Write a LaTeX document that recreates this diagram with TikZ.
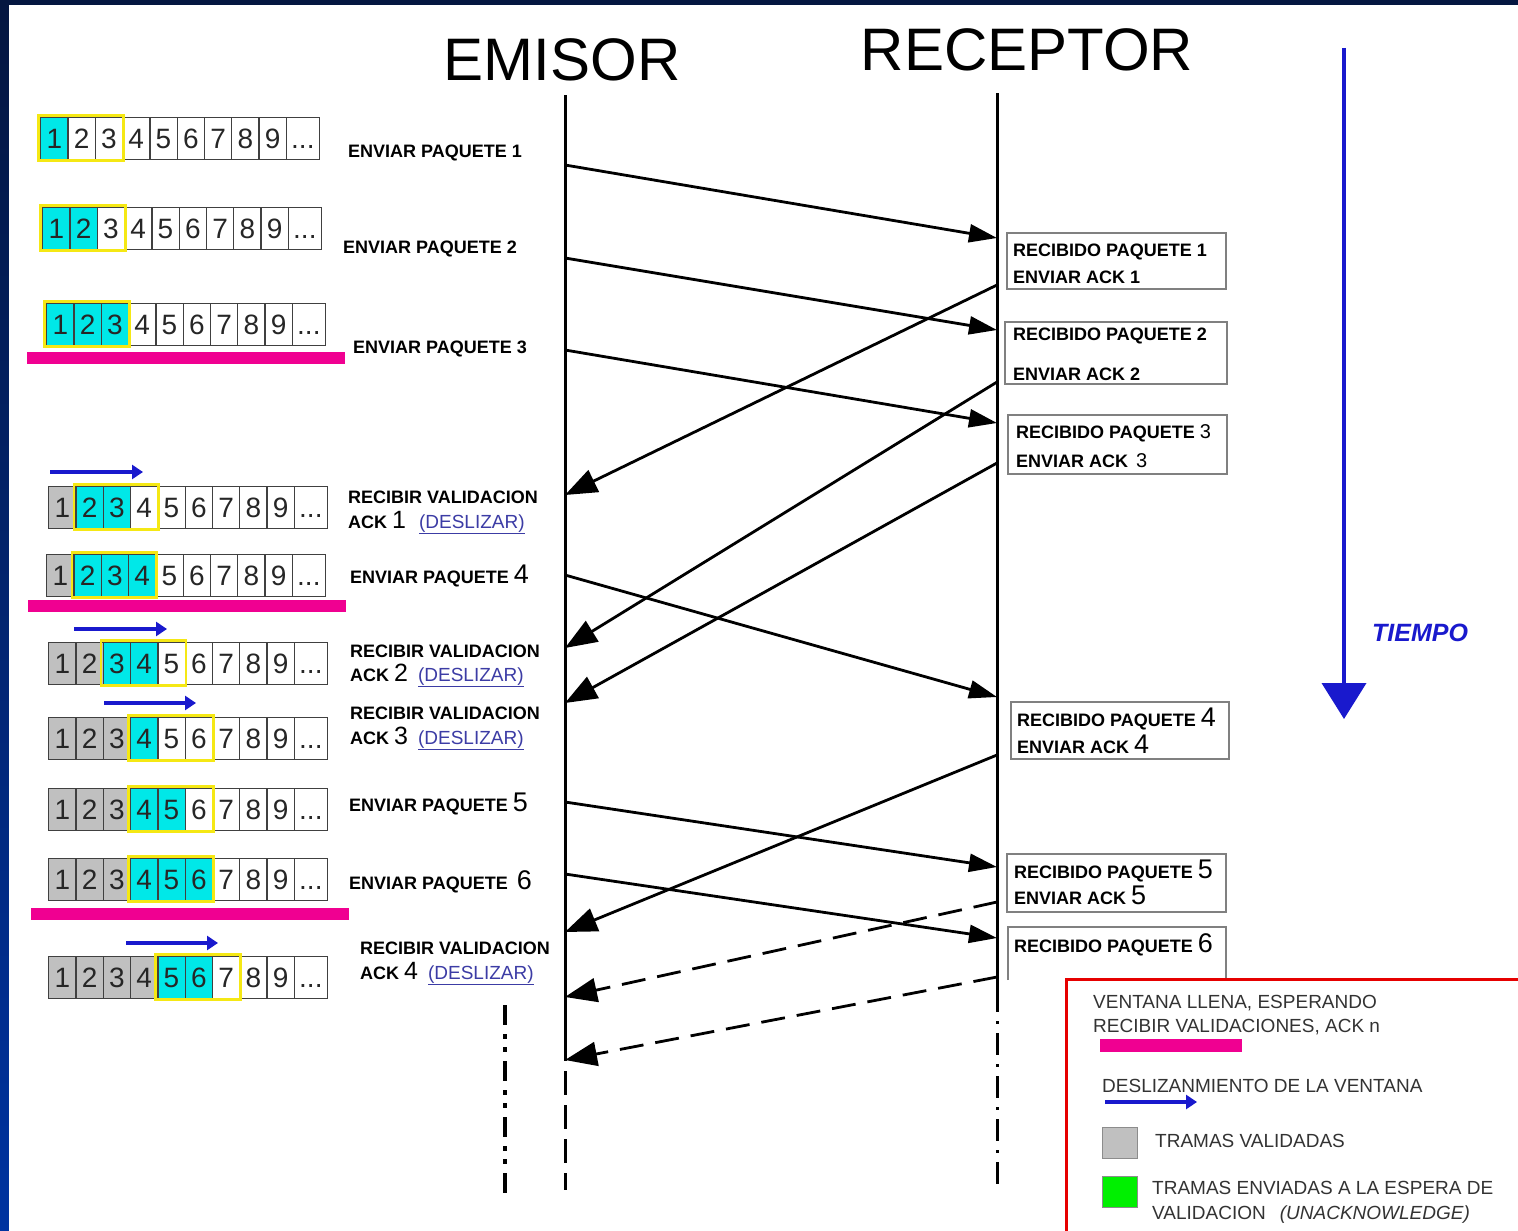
\documentclass[tikz,border=0pt]{standalone}
\usepackage{fontspec}
\setmainfont{Liberation Sans}
\usetikzlibrary{arrows.meta}

\definecolor{marino}{RGB}{4,22,64}
\definecolor{azulfondo}{RGB}{0,51,160}
\definecolor{cian}{RGB}{0,232,232}
\definecolor{gris}{RGB}{192,192,192}
\definecolor{amarillo}{RGB}{245,232,20}
\definecolor{rosa}{RGB}{240,0,145}
\definecolor{azul}{RGB}{25,25,205}
\definecolor{enlace}{RGB}{60,60,165}
\definecolor{verde}{RGB}{0,240,0}
\definecolor{rojo}{RGB}{230,0,0}

\newcommand{\gran}[2][27]{{\fontsize{#1}{#1}\mdseries\selectfont #2}}
\newcommand{\desl}{{\fontsize{19}{19}\mdseries\selectfont\color{enlace}\underline{(DESLIZAR)}}}

% fila de tramas: nombre, x, y, grises, cian desde, cian hasta, ventana desde
\newcommand{\ventana}[7]{%
  \foreach \i in {1,...,9}{
    \ifnum\i>#4\relax \def\relleno{white}\else \def\relleno{gris}\fi
    \ifnum\i<#5\relax \else \ifnum\i>#6\relax \else \def\relleno{cian}\fi\fi
    \node[celda, fill=\relleno] (#1c\i) at ({#2+(\i-1)*27.3}, #3) {\i};
  }
  \node[celda, minimum width=33pt] (#1c10) at ({#2+9*27.3}, #3) {...};
  \draw[ventanabox] ({#2+(#7-1)*27.3-1.5}, {#3-1.5}) rectangle ({#2+(#7+2)*27.3+1.5}, {#3+43.5});
}

\tikzset{
  celda/.style={draw=black!75, line width=1.3pt, minimum width=27.3pt, minimum height=42pt,
    inner sep=0pt, text height=20pt, text depth=0pt, anchor=north west, text=black!85,
    font=\fontsize{28}{28}\selectfont},
  ventanabox/.style={draw=amarillo, line width=2.6pt},
  titulo/.style={font=\fontsize{60}{60}\selectfont},
  vida/.style={line width=3pt},
  msg/.style={line width=2.8pt, -{Triangle[length=28pt,width=18pt]}},
  ack/.style={line width=2.8pt, -{Triangle[length=32pt,width=24pt]}},
  desliza/.style={draw=azul, line width=3.5pt, -{Triangle[length=11pt,width=14pt]}},
  etiq/.style={anchor=base west, inner sep=0pt, font=\fontsize{18}{18}\bfseries\selectfont},
  caja/.style={draw=black!50, line width=1.3pt},
  leyenda/.style={anchor=base west, inner sep=0pt, text=black!80, font=\fontsize{19}{19}\selectfont},
}

\begin{document}
\begin{tikzpicture}[x=1pt,y=-1pt]
\useasboundingbox (0,0) rectangle (1518,1231);
% fondo de la diapositiva
\shade[top color=marino, middle color=azulfondo, bottom color=azulfondo] (0,0) rectangle (1518,1231);
\fill[white] (9,5) rectangle (1518,1231);

\node[titulo] (emisor) at (562,60) {EMISOR};
\node[titulo] (receptor) at (1027,50) {RECEPTOR};

% lineas de vida
\coordinate (eTop) at (565,95);
\coordinate (eFin) at (565,1037);
\coordinate (ePie) at (565,1190);
\coordinate (rTop) at (997,93);
\coordinate (rFin) at (997,990);
\coordinate (rPie) at (997,1192);
\coordinate (xTop) at (505,1005);
\coordinate (xPie) at (505,1195);
\draw[vida] (eTop) -- (eFin);
\draw[vida, dash pattern=on 24pt off 10pt] (eFin) -- (ePie);
\draw[vida] (rTop) -- (rFin);
\draw[vida, dash pattern=on 22pt off 9pt on 3pt off 9pt] (rFin) -- (rPie);
\draw[line width=4pt, dash pattern=on 20pt off 9pt on 5pt off 8pt on 5pt off 9pt] (xTop) -- (xPie);

% paquetes
\coordinate (e1) at (565,165);
\coordinate (r1) at (997,238);
\coordinate (e2) at (565,258);
\coordinate (r2) at (997,330);
\coordinate (e3) at (565,350);
\coordinate (r3) at (997,423);
\coordinate (e4) at (565,575);
\coordinate (r4) at (997,697);
\coordinate (e5) at (565,802);
\coordinate (r5) at (997,867);
\coordinate (e6) at (565,874);
\coordinate (r6) at (997,938);
\draw[msg] (e1) -- (r1);
\draw[msg] (e2) -- (r2);
\draw[msg] (e3) -- (r3);
\draw[msg] (e4) -- (r4);
\draw[msg] (e5) -- (r5);
\draw[msg] (e6) -- (r6);

% validaciones
\coordinate (ra1) at (997,285);
\coordinate (ea1) at (565,495);
\coordinate (ra2) at (997,382);
\coordinate (ea2) at (565,648);
\coordinate (ra3) at (997,463);
\coordinate (ea3) at (565,703);
\coordinate (ra4) at (997,755);
\coordinate (ea4) at (565,932);
\coordinate (ra5) at (997,902);
\coordinate (ea5) at (565,997);
\coordinate (ra6) at (997,977);
\coordinate (ea6) at (565,1060);
\draw[ack] (ra1) -- (ea1);
\draw[ack] (ra2) -- (ea2);
\draw[ack] (ra3) -- (ea3);
\draw[ack] (ra4) -- (ea4);
\draw[ack, dash pattern=on 24pt off 12pt] (ra5) -- (ea5);
\draw[ack, dash pattern=on 24pt off 12pt] (ra6) -- (ea6);

% ventanas del emisor
\ventana{f1}{40}{117}{0}{1}{1}{1}
\ventana{f2}{42}{207}{0}{1}{2}{1}
\ventana{f3}{46}{303}{0}{1}{3}{1}
\ventana{f4}{48}{486}{1}{2}{3}{2}
\ventana{f5}{46}{554}{1}{2}{4}{2}
\ventana{f6}{48}{642}{2}{3}{4}{3}
\ventana{f7}{48}{717}{3}{4}{4}{4}
\ventana{f8}{48}{788}{3}{4}{5}{4}
\ventana{f9}{48}{858}{3}{4}{6}{4}
\ventana{f10}{48}{956}{4}{5}{6}{5}

\fill[rosa] (27,352) rectangle (345,364);
\fill[rosa] (28,600) rectangle (346,612);
\fill[rosa] (31,908) rectangle (349,920);

\coordinate (d4a) at (50,472);
\coordinate (d4b) at (143,472);
\coordinate (d6a) at (74,629);
\coordinate (d6b) at (167,629);
\coordinate (d7a) at (104,703);
\coordinate (d7b) at (196,703);
\coordinate (d10a) at (126,943);
\coordinate (d10b) at (218,943);
\draw[desliza] (d4a) -- (d4b);
\draw[desliza] (d6a) -- (d6b);
\draw[desliza] (d7a) -- (d7b);
\draw[desliza] (d10a) -- (d10b);

\node[etiq] (l1) at (348,157) {ENVIAR PAQUETE 1};
\node[etiq] (l2) at (343,253) {ENVIAR PAQUETE 2};
\node[etiq] (l3) at (353,353) {ENVIAR PAQUETE 3};
\node[etiq] (l4a) at (348,503) {RECIBIR VALIDACION};
\node[etiq] (l4b) at (348,528) {ACK \gran[25]{1}\hspace{13pt}\desl};
\node[etiq] (l5) at (350,583) {ENVIAR PAQUETE \gran{4}};
\node[etiq] (l6a) at (350,657) {RECIBIR VALIDACION};
\node[etiq] (l6b) at (350,681) {ACK \gran[25]{2}\hspace{10pt}\desl};
\node[etiq] (l7a) at (350,719) {RECIBIR VALIDACION};
\node[etiq] (l7b) at (350,744) {ACK \gran[25]{3}\hspace{10pt}\desl};
\node[etiq] (l8) at (349,811) {ENVIAR PAQUETE \gran{5}};
\node[etiq] (l9) at (349,889) {ENVIAR PAQUETE \hspace{4pt}\gran{6}};
\node[etiq] (l10a) at (360,954) {RECIBIR VALIDACION};
\node[etiq] (l10b) at (360,979) {ACK \gran[25]{4}\hspace{10pt}\desl};

% cajas del receptor
\draw[caja] (1007,233) rectangle (1226,289);
\node[etiq] (c1a) at (1013,256) {RECIBIDO PAQUETE 1};
\node[etiq] (c1b) at (1013,283) {ENVIAR ACK 1};
\draw[caja] (1005,322) rectangle (1227,384);
\node[etiq] (c2a) at (1013,340) {RECIBIDO PAQUETE 2};
\node[etiq] (c2b) at (1013,380) {ENVIAR ACK 2};
\draw[caja] (1008,415) rectangle (1227,474);
\node[etiq] (c3a) at (1016,438) {RECIBIDO PAQUETE \gran[20]{3}};
\node[etiq] (c3b) at (1016,467) {ENVIAR ACK \hspace{3pt}\gran[20]{3}};
\draw[caja] (1011,702) rectangle (1229,759);
\node[etiq] (c4a) at (1017,726) {RECIBIDO PAQUETE \gran{4}};
\node[etiq] (c4b) at (1017,753) {ENVIAR ACK \gran{4}};
\draw[caja] (1007,854) rectangle (1226,912);
\node[etiq] (c5a) at (1014,878) {RECIBIDO PAQUETE \gran{5}};
\node[etiq] (c5b) at (1014,904) {ENVIAR ACK \gran{5}};
\draw[caja] (1008,980) -- (1008,927) -- (1226,927) -- (1226,980);
\node[etiq] (c6a) at (1014,952) {RECIBIDO PAQUETE \gran{6}};

% tiempo
\coordinate (t0) at (1344,48);
\coordinate (t1) at (1344,719);
\draw[azul, line width=4pt, -{Triangle[length=36pt,width=44pt]}] (t0) -- (t1);
\node[anchor=base west, inner sep=0pt, text=azul, font=\fontsize{25}{25}\bfseries\itshape\selectfont] (tiempo) at (1372,641) {TIEMPO};

% leyenda
\draw[rojo, fill=white, line width=3pt] (1066,979) rectangle (1530,1245);
\node[leyenda] (ley1) at (1093,1008) {VENTANA LLENA, ESPERANDO};
\node[leyenda] (ley2) at (1093,1032) {RECIBIR VALIDACIONES, ACK n};
\fill[rosa] (1100,1039) rectangle (1242,1052);
\node[leyenda] (ley3) at (1102,1092) {DESLIZANMIENTO DE LA VENTANA};
\coordinate (dla) at (1105,1102);
\coordinate (dlb) at (1197,1102);
\draw[desliza] (dla) -- (dlb);
\draw[fill=gris, draw=black!45, line width=1pt] (1102,1127) rectangle (1137,1158);
\node[leyenda] (ley4) at (1155,1147) {TRAMAS VALIDADAS};
\draw[fill=verde, draw=black!45, line width=1pt] (1102,1176) rectangle (1137,1207);
\node[leyenda] (ley5) at (1152,1194) {TRAMAS ENVIADAS A LA ESPERA DE};
\node[leyenda] (ley6) at (1152,1219) {VALIDACION\hspace{14pt}\textit{(UNACKNOWLEDGE)}};
\end{tikzpicture}
\end{document}
